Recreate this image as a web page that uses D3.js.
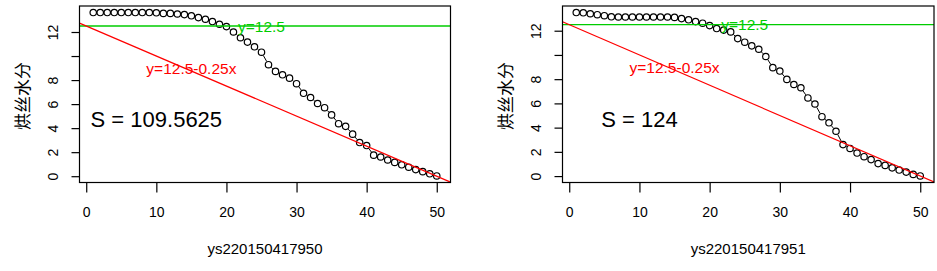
<!DOCTYPE html>
<html><head><meta charset="utf-8">
<script src="https://cdn.jsdelivr.net/npm/d3@7/dist/d3.min.js"></script>
<style>body{margin:0;background:#fff} svg{display:block}</style>
</head><body><svg id="c" width="937" height="271"></svg>
<script>
const xIndex = [1,2,3,4,5,6,7,8,9,10,11,12,13,14,15,16,17,18,19,20,21,22,23,24,25,26,27,28,29,30,31,32,33,34,35,36,37,38,39,40,41,42,43,44,45,46,47,48,49,50];
const moistureA = [13.62,13.62,13.62,13.62,13.62,13.62,13.62,13.62,13.62,13.6,
  13.55,13.55,13.5,13.45,13.35,13.2,13.06,12.87,12.64,12.45,
  12.0,11.52,11.16,10.77,10.32,9.28,8.72,8.44,8.16,7.7,
  6.9,6.55,6.05,5.7,5.1,4.37,4.15,3.5,2.8,2.55,
  1.75,1.6,1.35,1.15,0.95,0.75,0.55,0.38,0.2,0.02];
const moistureB = [13.5,13.48,13.4,13.32,13.24,13.15,13.13,13.13,13.13,13.13,
  13.13,13.13,13.13,13.13,13.1,13.0,12.9,12.75,12.62,12.42,
  12.18,12.05,11.9,11.35,11.05,10.75,10.47,9.87,8.95,8.67,
  7.98,7.56,7.29,6.45,5.95,4.9,4.4,3.7,2.6,2.28,
  1.9,1.6,1.36,1.03,0.88,0.68,0.5,0.33,0.14,0.01];
const sampleNames = ["ys220150417950", "ys220150417951"];
const areaLabels = ["S = 109.5625", "S = 124"];
const xTicks = [0,10,20,30,40,50];
const xTickLabels = ["0","10","20","30","40","50"];
const yTicks = [0,2,4,6,8,10,12];
const yTickLabels = ["0","2","4","6","8","","12"];
const yAxisTitle = "烘丝水分";
const refLevel = 12.5;
const refIntercept = 12.5, refSlope = -0.25;
const refTexts = ["y=12.5", "y=12.5-0.25x"];

const svg = d3.select("#c");
svg.append("rect").attr("width",937).attr("height",271).attr("fill","#fff");
const FONT = "'Liberation Sans', Arial, sans-serif";

function drawPanel(idx, box, values, name, areaText) {
  const g = svg.append("g");
  const xr = d3.extent(xIndex), yr = d3.extent(values);
  const xpad = (xr[1]-xr[0])*0.04, ypad = (yr[1]-yr[0])*0.04;
  const x = d3.scaleLinear().domain([xr[0]-xpad, xr[1]+xpad]).range([box.l, box.r]);
  const y = d3.scaleLinear().domain([yr[0]-ypad, yr[1]+ypad]).range([box.b, box.t]);

  const clipId = "clip"+idx;
  g.append("clipPath").attr("id", clipId).append("rect")
    .attr("x", box.l).attr("y", box.t).attr("width", box.r-box.l).attr("height", box.b-box.t);

  // points + connecting segments (type = "b")
  const r = 3.2, gap = r + 0.6;
  const pts = xIndex.map((xi,i)=>({x:x(xi), y:y(values[i])}));
  const segs = [];
  for (let i=0;i<pts.length-1;i++){
    const a=pts[i], b=pts[i+1];
    const dx=b.x-a.x, dy=b.y-a.y, len=Math.hypot(dx,dy);
    if (len > 2*gap) {
      const ux=dx/len, uy=dy/len;
      segs.push({x1:a.x+ux*gap, y1:a.y+uy*gap, x2:b.x-ux*gap, y2:b.y-uy*gap});
    }
  }
  g.append("g").selectAll("line").data(segs).join("line")
    .attr("x1",d=>d.x1).attr("y1",d=>d.y1).attr("x2",d=>d.x2).attr("y2",d=>d.y2)
    .attr("stroke","#000").attr("stroke-width",1);
  g.append("g").selectAll("circle").data(pts).join("circle")
    .attr("cx",d=>d.x).attr("cy",d=>d.y).attr("r",r)
    .attr("fill","none").attr("stroke","#000").attr("stroke-width",1.2);

  // reference lines
  const lines = g.append("g").attr("clip-path", `url(#${clipId})`);
  const xd = x.domain();
  lines.append("line")
    .attr("x1", x(xd[0])).attr("x2", x(xd[1]))
    .attr("y1", y(refLevel)).attr("y2", y(refLevel))
    .attr("stroke", "#00cc00").attr("stroke-width", 1.3);
  lines.append("line")
    .attr("x1", x(xd[0])).attr("x2", x(xd[1]))
    .attr("y1", y(refIntercept + refSlope*xd[0])).attr("y2", y(refIntercept + refSlope*xd[1]))
    .attr("stroke", "#ff0000").attr("stroke-width", 1.2);

  // texts
  g.append("text").attr("x", x(25)).attr("y", y(12.5)).attr("dy","0.36em")
    .attr("text-anchor","middle").attr("font-family",FONT).attr("font-size",15.5)
    .attr("fill","#00cc00").text(refTexts[0]);
  g.append("text").attr("x", x(15)).attr("y", y(9)).attr("dy","0.36em")
    .attr("text-anchor","middle").attr("font-family",FONT).attr("font-size",15.5)
    .attr("fill","#ff0000").text(refTexts[1]);
  g.append("text").attr("x", x(10)).attr("y", y(4.72)).attr("dy","0.36em")
    .attr("text-anchor","middle").attr("font-family",FONT).attr("font-size",22)
    .attr("fill","#000").text(areaText);

  // box
  g.append("rect").attr("x", box.l).attr("y", box.t)
    .attr("width", box.r-box.l).attr("height", box.b-box.t)
    .attr("fill","none").attr("stroke","#000").attr("stroke-width",1.2);

  // axes
  const xa = g.append("g").attr("transform", `translate(0,${box.b})`)
    .call(d3.axisBottom(x).tickValues(xTicks).tickFormat((d,i)=>xTickLabels[i]).tickSize(10).tickSizeOuter(0).tickPadding(14.5));
  xa.select(".domain").remove();
  xa.selectAll(".tick line").attr("stroke","#000").attr("stroke-width",1.2);
  xa.selectAll(".tick text").attr("font-family",FONT).attr("font-size",14).attr("fill","#000");

  const ya = g.append("g").attr("transform", `translate(${box.l},0)`)
    .call(d3.axisLeft(y).tickValues(yTicks).tickFormat((d,i)=>yTickLabels[i]).tickSize(8).tickSizeOuter(0));
  ya.select(".domain").remove();
  ya.selectAll(".tick line").attr("stroke","#000").attr("stroke-width",1.2);
  ya.selectAll(".tick text").attr("font-family",FONT).attr("font-size",14).attr("fill","#000")
    .attr("x", null).attr("dy","0.35em").attr("text-anchor","middle")
    .attr("transform","translate(-26,0) rotate(-90)");

  // axis titles
  g.append("text").attr("x", (box.l+box.r)/2).attr("y", 253.5)
    .attr("text-anchor","middle").attr("font-family",FONT).attr("font-size",15)
    .attr("fill","#000").text(name);
  g.append("text").attr("transform", `translate(${box.l-58.5},96) rotate(-90)`)
    .attr("text-anchor","middle").attr("dominant-baseline","central")
    .attr("font-family","'Noto Sans CJK SC', sans-serif").attr("font-size",17)
    .attr("fill","#000").text(yAxisTitle);
}

drawPanel(0, {l:79.5, r:450.5, t:6, b:182.5}, moistureA, sampleNames[0], areaLabels[0]);
drawPanel(1, {l:562.5, r:934, t:6, b:182.5}, moistureB, sampleNames[1], areaLabels[1]);
</script></body></html>
